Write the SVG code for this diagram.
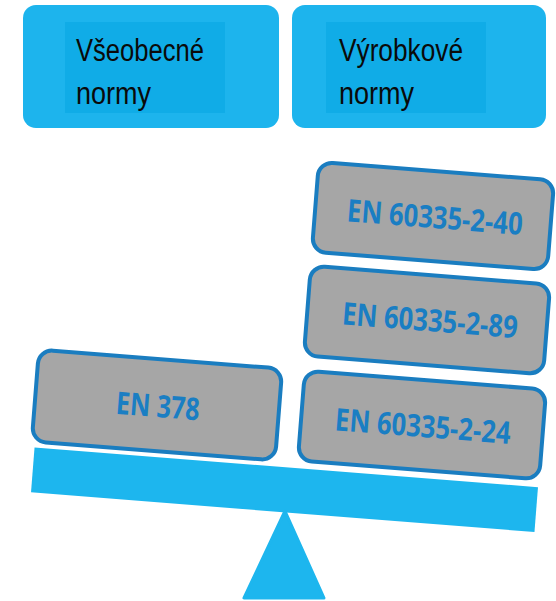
<svg xmlns="http://www.w3.org/2000/svg" width="556" height="601" viewBox="0 0 556 601">
<style>
.hdr{fill:#1DB4ED}
.hdrin{fill:#10ACE7}
.hdrtxt{font-family:"Liberation Sans",Arial,sans-serif;font-size:31px;fill:#0a0a0a}
.std{fill:#A6A6A6;stroke:#1A7DC0;stroke-width:4}
.stdtxt{font-family:"Open Sans",Lato,sans-serif;font-weight:bold;font-size:31px;fill:#1A7EC3;text-anchor:middle}
.bal{fill:#1DB6EE}
</style>
<rect width="556" height="601" fill="#ffffff"/>
<g id="vseobecne">
<rect class="hdr" x="23" y="5" width="256" height="123" rx="13"/>
<rect class="hdrin" x="65" y="22" width="160" height="91"/>
<text class="hdrtxt" x="76" y="61" textLength="128" lengthAdjust="spacingAndGlyphs">Všeobecné</text>
<text class="hdrtxt" x="76" y="104" textLength="75" lengthAdjust="spacingAndGlyphs">normy</text>
</g>
<g id="vyrobkove">
<rect class="hdr" x="292" y="5" width="254" height="123" rx="13"/>
<rect class="hdrin" x="326" y="22" width="160" height="91"/>
<text class="hdrtxt" x="339" y="61" textLength="124" lengthAdjust="spacingAndGlyphs">Výrobkové</text>
<text class="hdrtxt" x="339" y="104" textLength="75" lengthAdjust="spacingAndGlyphs">normy</text>
</g>
<g id="scale">
<rect class="bal" x="32" y="467.25" width="505" height="45" transform="rotate(4.5 284.5 489.75)"/>
<polygon class="bal" points="285,511 244,598 324,598" stroke="#1DB6EE" stroke-width="3" stroke-linejoin="round"/>
</g>
<g id="en378" transform="rotate(4.5 157 405)">
<rect class="std" x="35" y="359" width="244" height="92" rx="14"/>
<text class="stdtxt" x="158" y="417" textLength="84" lengthAdjust="spacingAndGlyphs">EN 378</text>
</g>
<g id="en60335-2-24" transform="rotate(4.5 422 425)">
<rect class="std" x="301" y="380" width="242" height="90" rx="14"/>
<text class="stdtxt" x="423" y="437" textLength="176" lengthAdjust="spacingAndGlyphs">EN 60335-2-24</text>
</g>
<g id="en60335-2-89" transform="rotate(4.5 427 320)">
<rect class="std" x="307" y="275" width="240" height="90" rx="14"/>
<text class="stdtxt" x="430" y="331" textLength="176" lengthAdjust="spacingAndGlyphs">EN 60335-2-89</text>
</g>
<g id="en60335-2-40" transform="rotate(4.5 433 216)">
<rect class="std" x="315" y="171" width="236" height="90" rx="14"/>
<text class="stdtxt" x="435" y="228" textLength="176" lengthAdjust="spacingAndGlyphs">EN 60335-2-40</text>
</g>
<g id="connectors"/>
</svg>
